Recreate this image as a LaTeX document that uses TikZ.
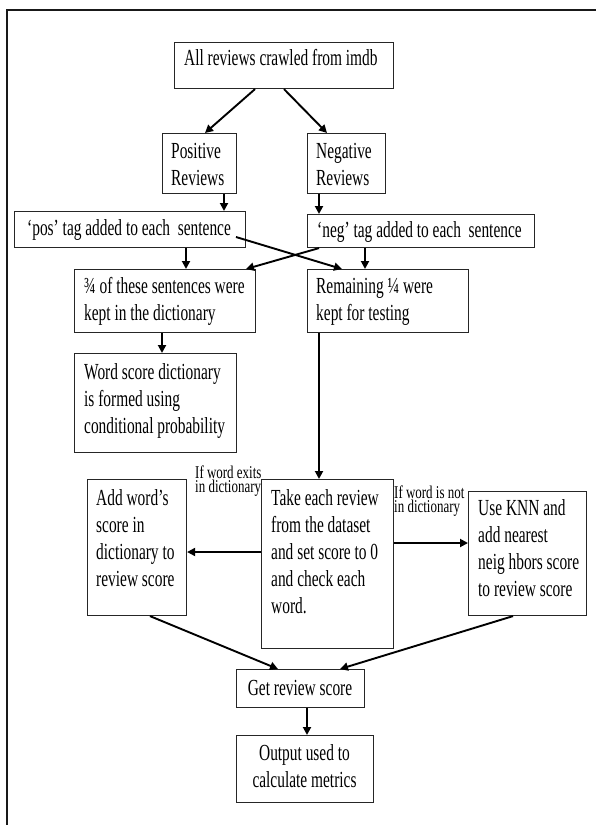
\documentclass[tikz,border=0pt]{standalone}
\usepackage{fontspec}
\usepackage{graphicx}
\setmainfont{Liberation Serif}
\newcommand\mt[1]{\scalebox{0.67}[1]{\vtop{\baselineskip=27pt\lineskiplimit=-30pt\halign{##\hfil\cr#1\crcr}}}}
\newcommand\ct[1]{\scalebox{0.67}[1]{\vtop{\baselineskip=27pt\lineskiplimit=-30pt\halign{\hfil##\hfil\cr#1\crcr}}}}
\newcommand\lt[1]{\scalebox{0.72}[1]{\vtop{\baselineskip=14pt\lineskiplimit=-30pt\halign{##\hfil\cr#1\crcr}}}}
\usetikzlibrary{arrows.meta,calc}
\tikzset{
  box/.style={draw=black!85, line width=1.1pt, inner sep=0pt, anchor=north west, fill=white},
  arr/.style={line width=1.9pt, -{Triangle[length=8pt,width=8pt]}},
  txt/.style={inner sep=0pt, anchor=base west, font=\fontsize{23}{27}\selectfont},
  ctxt/.style={inner sep=0pt, anchor=base, font=\fontsize{23}{27}\selectfont},
  lab/.style={inner sep=0pt, anchor=base west, font=\fontsize{18}{14}\selectfont},
  frame/.style={line width=1.4pt, draw=black!90}
}
\begin{document}
\begin{tikzpicture}[x=1pt,y=-1pt]
\useasboundingbox (0,0) rectangle (596,825);
\draw[frame] (7,830) -- (7,10) -- (600,10);

% boxes
\node[box, minimum width=219pt, minimum height=46pt] (top) at (174,42) {};
\node[box, minimum width=74pt, minimum height=60pt] (pos) at (162,133) {};
\node[box, minimum width=78pt, minimum height=60pt] (neg) at (307,133) {};
\node[box, minimum width=231pt, minimum height=36pt] (postag) at (14,211) {};
\node[box, minimum width=227pt, minimum height=33pt] (negtag) at (307,214) {};
\node[box, minimum width=181pt, minimum height=63pt] (three) at (74,269) {};
\node[box, minimum width=161pt, minimum height=63pt] (remain) at (307,269) {};
\node[box, minimum width=162pt, minimum height=99pt] (word) at (74,353) {};
\node[box, minimum width=99pt, minimum height=136pt] (add) at (87,479) {};
\node[box, minimum width=132pt, minimum height=169pt] (take) at (261,479) {};
\node[box, minimum width=118pt, minimum height=124pt] (knn) at (468,491) {};
\node[box, minimum width=128pt, minimum height=38pt] (get) at (236,669) {};
\node[box, minimum width=137pt, minimum height=67pt] (out) at (236,735) {};

% texts
\node[txt] (ttop) at ($(top.north west)+(10,23)$) {\mt{All reviews crawled from imdb}};
\node[txt] (tpos) at ($(pos.north west)+(9,25)$) {\mt{Positive\cr Reviews}};
\node[txt] (tneg) at ($(neg.north west)+(9,25)$) {\mt{Negative\cr Reviews}};
\node[txt] (tpostag) at ($(postag.north west)+(13,24)$) {\mt{‘pos’ tag added to each\ \ sentence}};
\node[txt] (tnegtag) at ($(negtag.north west)+(10,23)$) {\mt{‘neg’ tag added to each\ \ sentence}};
\node[txt] (tthree) at ($(three.north west)+(10,24)$) {\mt{¾ of these sentences were\cr kept in the dictionary}};
\node[txt] (tremain) at ($(remain.north west)+(9,24)$) {\mt{Remaining ¼ were\cr kept for testing}};
\node[txt] (tword) at ($(word.north west)+(10,26)$) {\mt{Word score dictionary\cr is formed using\cr conditional probability}};
\node[txt] (tadd) at ($(add.north west)+(9,26)$) {\mt{Add word’s\cr score in\cr dictionary to\cr review score}};
\node[txt] (ttake) at ($(take.north west)+(10,26)$) {\mt{Take each review\cr from the dataset\cr and set score to 0\cr and check each\cr word.}};
\node[txt] (tknn) at ($(knn.north west)+(10,24)$) {\mt{Use KNN and\cr add nearest\cr neig hbors score\cr to review score}};
\node[ctxt] (tget) at ($(get.north west)+(64,26)$) {\ct{Get review score}};
\node[ctxt] (tout) at ($(out.north west)+(68.5,25)$) {\ct{Output used to\cr calculate metrics}};

% labels
\node[lab] (l1) at (195,478) {\lt{If word exits\cr in dictionary}};
\node[lab] (l2) at (394,498) {\lt{If word is not\cr in dictionary}};

% arrows
\draw[arr] ($(top.south west)+(81,0)$) -- ($(pos.north west)+(43,0)$);
\draw[arr] ($(top.south west)+(110,0)$) -- ($(neg.north west)+(20,0)$);
\draw[arr] ($(pos.south west)+(62,0)$) -- ($(postag.north west)+(210,0)$);
\draw[arr] ($(neg.south west)+(12,0)$) -- ($(negtag.north west)+(12,0)$);
\draw[arr] ($(postag.south west)+(172,0)$) -- ($(three.north west)+(112,0)$);
\draw[arr] ($(negtag.south west)+(58,0)$) -- ($(remain.north west)+(58,0)$);
\draw[arr] ($(postag.north west)+(222,26)$) -- ($(remain.north west)+(35,0)$);
\draw[arr] ($(negtag.south west)+(12,0)$) -- ($(three.north west)+(172,0)$);
\draw[arr] ($(three.south west)+(88,0)$) -- ($(word.north west)+(88,0)$);
\draw[arr] ($(remain.south west)+(12,0)$) -- ($(take.north west)+(58,0)$);
\draw[arr] ($(take.north west)+(0,73)$) -- ($(add.north east)+(0,73)$);
\draw[arr] ($(take.north east)+(0,64)$) -- ($(knn.north west)+(0,52)$);
\draw[arr] ($(add.south west)+(63,0)$) -- ($(get.north west)+(42,0)$);
\draw[arr] ($(knn.south west)+(45,0)$) -- ($(get.north west)+(104,0)$);
\draw[arr] ($(get.south west)+(71,0)$) -- ($(out.north west)+(71,0)$);
\end{tikzpicture}
\end{document}
